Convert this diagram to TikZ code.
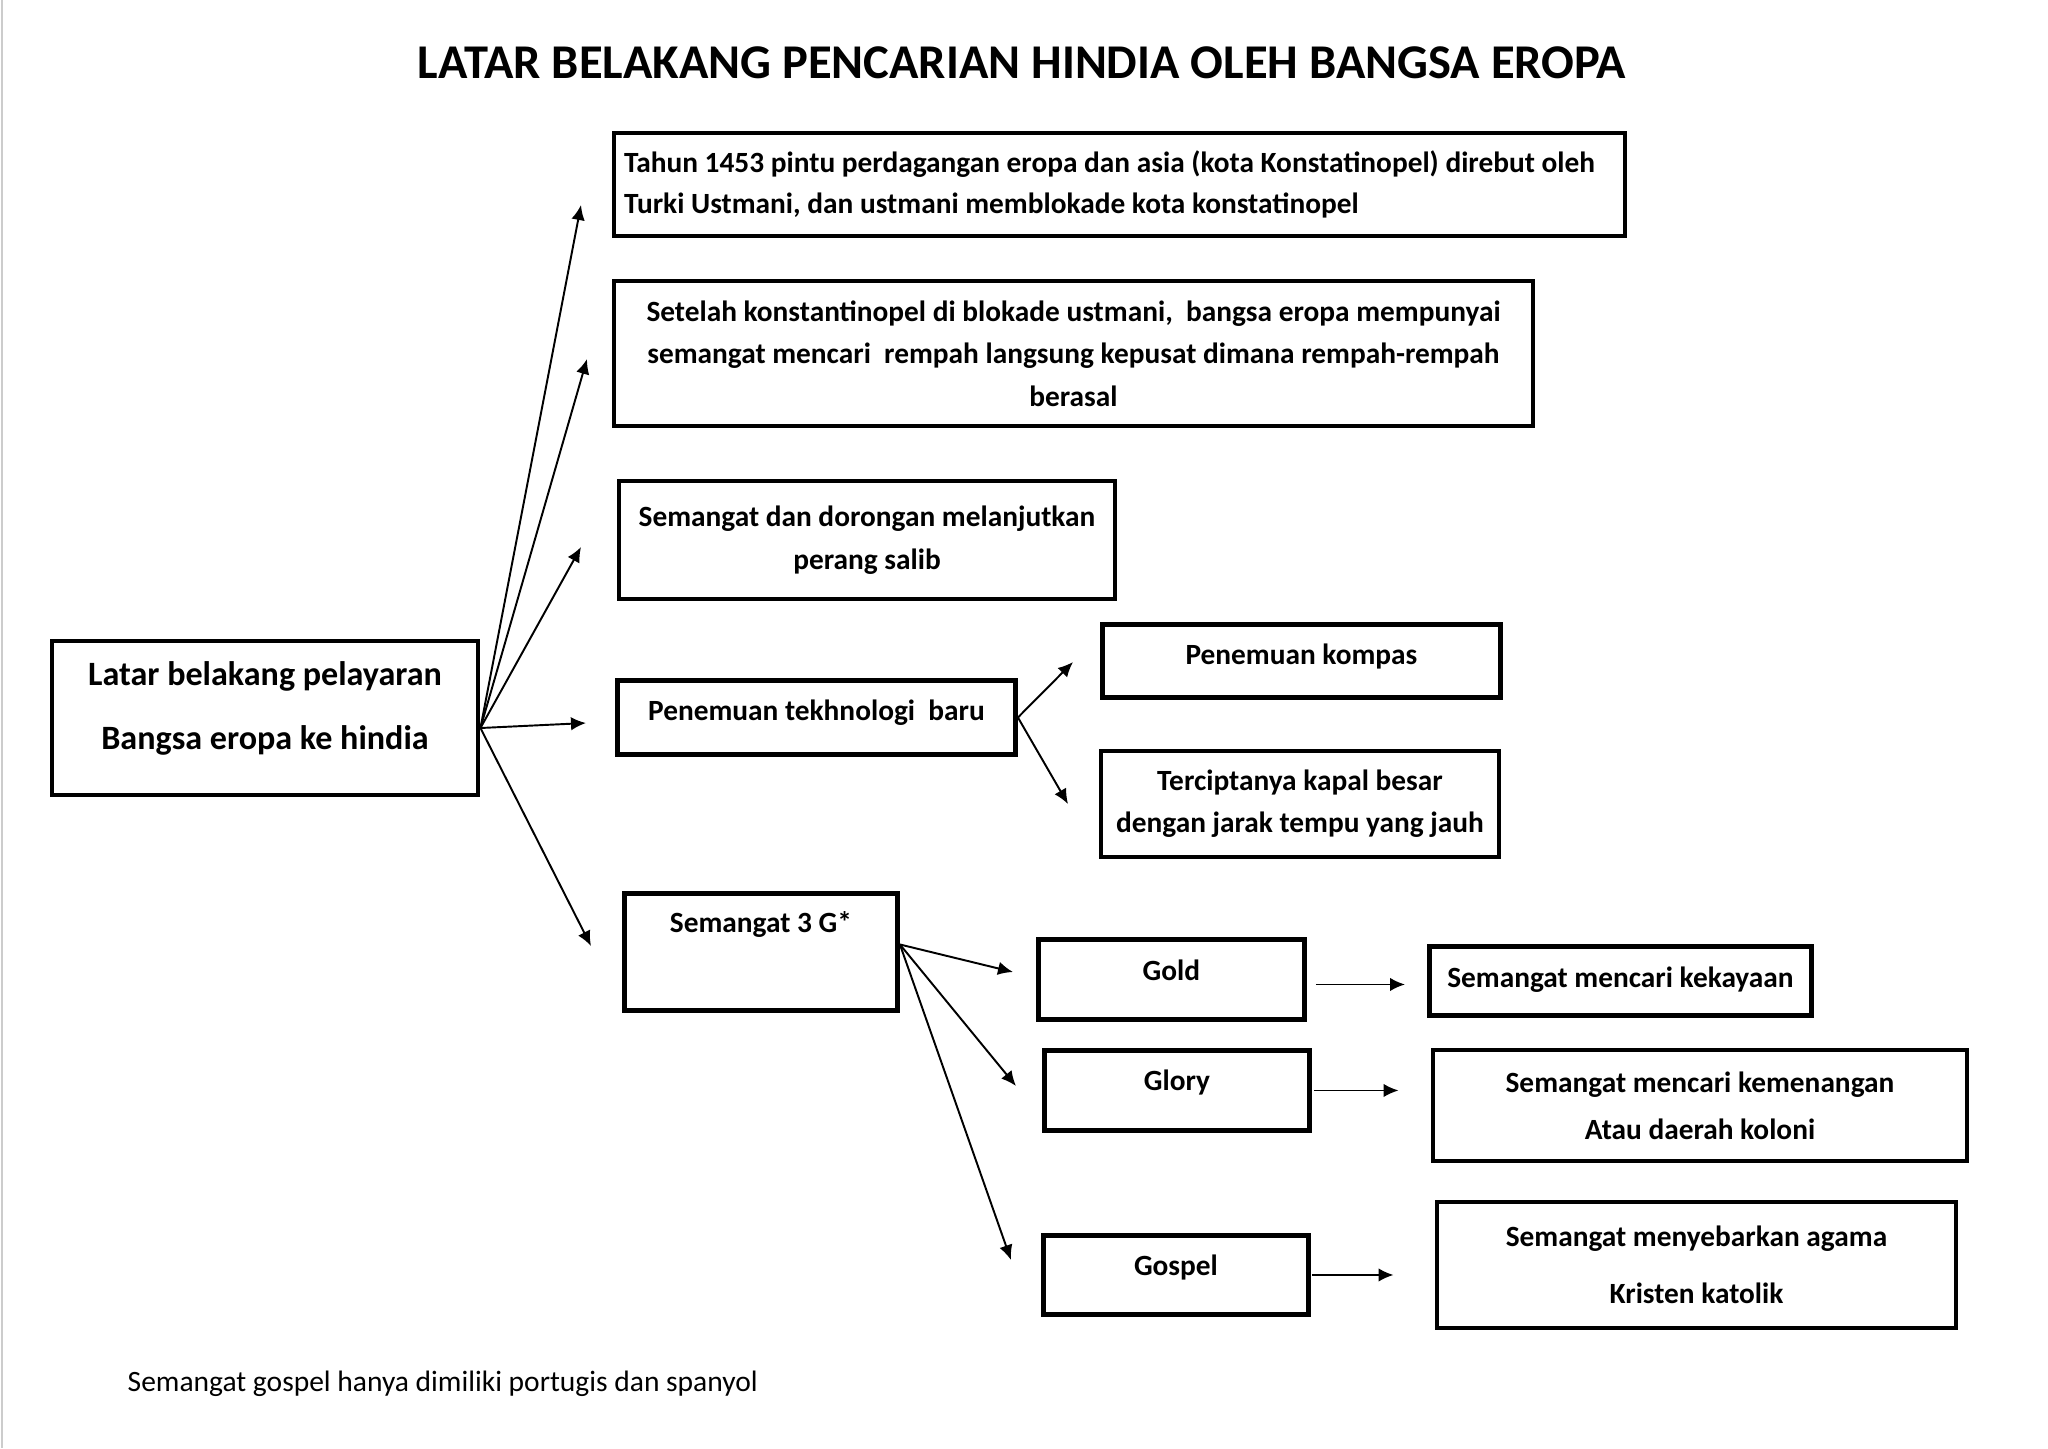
\documentclass[tikz,border=0pt]{standalone}
\usepackage{fontspec}
\setmainfont{Carlito}
\usetikzlibrary{arrows.meta}

\tikzset{
    kotak/.style={draw, line width=1.4pt, inner sep=0pt, align=center, font=\bfseries\fontsize{8.35}{12}\selectfont},
    panah/.style={line width=0.55pt, -{Latex[length=1.5mm,width=1.35mm]}}
}

\begin{document}
\begin{tikzpicture}[y=-1cm]
    \useasboundingbox (0,0) rectangle (20.48,14.48);
    \draw[gray!40, line width=0.6pt] (0.02,0)--(0.02,14.48);
    \node[font=\bfseries\fontsize{13.8}{16}\selectfont, anchor=base, inner sep=0pt] (judul) at (10.22,0.78) {LATAR BELAKANG PENCARIAN HINDIA OLEH BANGSA EROPA};

    \node[kotak, minimum width=4.26cm, minimum height=1.54cm, font=\bfseries\fontsize{9.7}{18.2}\selectfont] (latar) at (2.65,7.18) {Latar belakang pelayaran\\Bangsa eropa ke hindia\rule[-0.24cm]{0pt}{0.24cm}};

    \node[kotak, text width=9.91cm, inner xsep=0.1cm, align=left, minimum height=1.03cm, font=\bfseries\fontsize{8.35}{11.7}\selectfont] (tahun) at (11.195,1.845) {\spaceskip=0pt\xspaceskip=0pt\mbox{Tahun 1453 pintu perdagangan eropa dan asia (kota Konstatinopel) direbut oleh}\\\mbox{Turki Ustmani, dan ustmani memblokade kota konstatinopel}};
    \node[kotak, minimum width=9.19cm, minimum height=1.45cm, font=\bfseries\fontsize{8.35}{12.1}\selectfont] (setelah) at (10.735,3.535) {Setelah konstantinopel di blokade ustmani,\ \ bangsa eropa mempunyai\\semangat mencari\ \ rempah langsung kepusat dimana rempah-rempah\\berasal};
    \node[kotak, minimum width=4.96cm, minimum height=1.18cm, font=\bfseries\fontsize{8.35}{12.3}\selectfont] (salib) at (8.67,5.40) {Semangat dan dorongan melanjutkan\\perang salib};
    \node[kotak, minimum width=3.98cm, text height=0.40cm, text depth=0.34cm, anchor=north west] (tekno) at (6.15,6.78) {Penemuan tekhnologi\ \ baru};
    \node[kotak, minimum width=2.73cm, text height=0.39cm, text depth=0.78cm, anchor=north west] (tiga) at (6.22,8.91) {Semangat 3 G*};

    \node[kotak, minimum width=3.98cm, text height=0.40cm, text depth=0.33cm, anchor=north west] (kompas) at (11.00,6.22) {Penemuan kompas};
    \node[kotak, minimum width=3.98cm, minimum height=1.06cm, font=\bfseries\fontsize{8.35}{11.95}\selectfont] (kapal) at (13.00,8.04) {Terciptanya kapal besar\\dengan jarak tempu yang jauh};

    \node[kotak, minimum width=2.66cm, text height=0.41cm, text depth=0.39cm, anchor=north west] (gold) at (10.36,9.37) {Gold};
    \node[kotak, minimum width=2.65cm, text height=0.40cm, text depth=0.40cm, anchor=north west] (glory) at (10.42,10.48) {Glory};
    \node[kotak, minimum width=2.65cm, text height=0.40cm, text depth=0.39cm, anchor=north west] (gospel) at (10.41,12.33) {Gospel};

    \node[kotak, minimum width=3.82cm, text height=0.41cm, text depth=0.28cm, anchor=north west] (kaya) at (14.27,9.44) {Semangat mencari kekayaan};
    \node[kotak, minimum width=5.34cm, minimum height=1.11cm, font=\bfseries\fontsize{8.35}{13.4}\selectfont] (menang) at (17.00,11.055) {Semangat mencari kemenangan\\Atau daerah koloni};
    \node[kotak, minimum width=5.19cm, minimum height=1.26cm, font=\bfseries\fontsize{8.35}{16.2}\selectfont] (katolik) at (16.965,12.65) {Semangat menyebarkan agama\\Kristen katolik};

    \node[font=\fontsize{8.4}{10}\selectfont, anchor=base west, inner sep=0pt] (catatan) at (1.27,13.91) {Semangat gospel hanya dimiliki portugis dan spanyol};

    \coordinate (pangkal) at ([yshift=-0.1cm]latar.east);
    \coordinate (u1) at (5.81,2.05);
    \coordinate (u2) at (5.87,3.59);
    \coordinate (u3) at (5.81,5.47);
    \coordinate (u4) at (5.86,7.23);
    \coordinate (u5) at (5.91,9.46);
    \foreach \i in {1,...,5}
        \draw[panah] (pangkal) -- (u\i);

    \coordinate (k1) at (10.73,6.62);
    \coordinate (k2) at (10.68,8.04);
    \draw[panah] (tekno.east) -- (k1);
    \draw[panah] (tekno.east) -- (k2);

    \coordinate (pangkaltiga) at ([yshift=0.075cm]tiga.east);
    \coordinate (g1) at (10.13,9.72);
    \coordinate (g2) at (10.16,10.86);
    \coordinate (g3) at (10.11,12.60);
    \foreach \i in {1,2,3}
        \draw[panah] (pangkaltiga) -- (g\i);

    \draw[panah, shorten <=0.09cm, shorten >=0.22cm] ([yshift=-0.05cm]gold.east) -- ([yshift=-0.05cm]gold.east -| kaya.west);
    \draw[panah, shorten <=0.02cm, shorten >=0.32cm] (glory.east) -- (glory.east -| menang.west);
    \draw[panah, shorten <=0.01cm, shorten >=0.41cm] (gospel.east) -- (gospel.east -| katolik.west);
\end{tikzpicture}
\end{document}
